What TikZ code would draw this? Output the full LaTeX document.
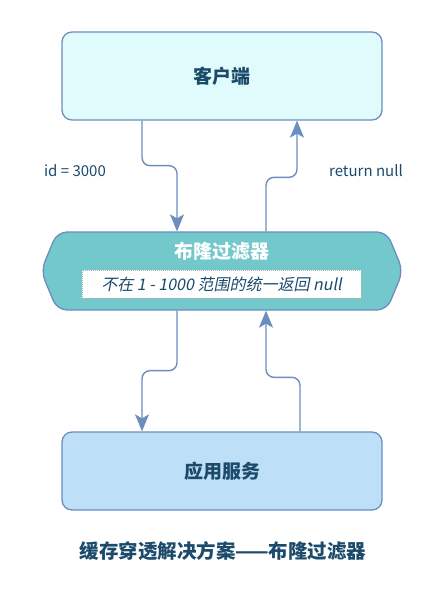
\documentclass[tikz,border=0pt]{standalone}
\usepackage{fontspec}
\setmainfont{Noto Sans CJK SC}
\newfontfamily\slantfont[FakeSlant=0.2]{Noto Sans CJK SC}
\usetikzlibrary{shapes.symbols, positioning, arrows.meta}
\definecolor{lineColor}{HTML}{6C8EBF}
\definecolor{textColor}{HTML}{1B4A6B}
\definecolor{clientFill}{HTML}{E0FBFC}
\definecolor{filterFill}{HTML}{72C8CB}
\definecolor{serviceFill}{HTML}{BDE0F8}
\tikzstyle{box}=[rectangle, rounded corners=10pt, draw=lineColor, line width=1.3pt,
minimum width=320pt, minimum height=88pt, font=\fontsize{19}{22}\selectfont\bfseries, text=textColor]
\tikzstyle{flow}=[line width=1.4pt, draw=lineColor, rounded corners=8pt,
-{Stealth[length=17pt, width=14pt, inset=4pt]}]
\tikzstyle{lbl}=[font=\fontsize{15}{17}\selectfont, text=textColor]

\begin{document}
\begin{tikzpicture}[x=1pt, y=-1pt]
  \useasboundingbox (0,0) rectangle (446,601);
  \node(client) [box, fill=clientFill] at (222,76) {客户端};
  \node(filter) [signal, signal to=east and west, signal pointer angle=135,
    rounded corners=10pt, draw=lineColor, fill=filterFill, line width=1.3pt,
    minimum width=362pt, minimum height=78pt] at (222,271) {};
  \node(filterTitle) [font=\fontsize{19}{22}\selectfont\bfseries, text=white] at (222,251) {布隆过滤器};
  \node(filterNote) [rectangle, fill=white, draw=gray!60, densely dotted, line width=1pt,
    minimum width=279pt, minimum height=28pt, font=\fontsize{16}{17}\selectfont\slantfont,
    text=textColor] at (221.5,284) {不在 1 - 1000 范围的统一返回 null};
  \node(service) [box, fill=serviceFill, minimum height=78pt] at (222,471) {应用服务};
  \node(caption) [font=\fontsize{19.5}{22}\selectfont\bfseries, text=textColor] at (223,551)
  {缓存穿透解决方案——布隆过滤器};
  % request path
  \draw [flow] ([xshift=-80pt]client.south) -- ++(0,45) -| ([xshift=-45pt]filter.north);
  \node(reqLabel) [lbl] at (75,171) {id = 3000};
  \draw [flow] ([xshift=44pt]filter.north) -- ++(0,-54) -| ([xshift=75pt]client.south);
  \node(retLabel) [lbl] at (366,171) {return null};
  \draw [flow] ([xshift=-45pt]filter.south) -- ++(0,60) -| ([xshift=-80pt]service.north);
  \draw [flow] ([xshift=78pt]service.north) -- ++(0,-54) -| ([xshift=44pt]filter.south);
\end{tikzpicture}
\end{document}
